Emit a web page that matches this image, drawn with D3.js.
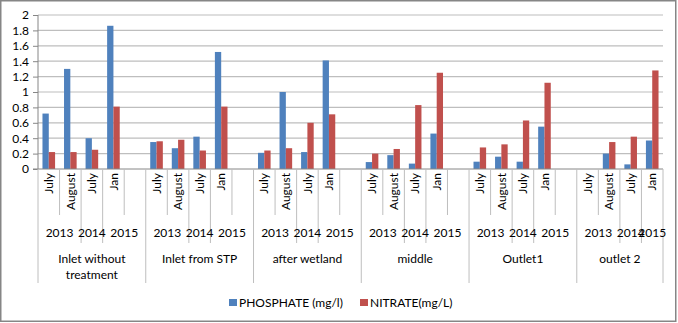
<!DOCTYPE html>
<html>
<head>
<meta charset="utf-8">
<script src="https://cdn.jsdelivr.net/npm/d3@7"></script>
<style>
  body { margin: 0; background: #fff; }
  svg { display: block; font-family: Lato, "Open Sans", sans-serif; }
</style>
</head>
<body>
<svg width="678" height="323"></svg>
<script>
let groups = ["Inlet without treatment", "Inlet from STP", "after wetland", "middle", "Outlet1", "outlet 2"];
let months = ["July", "August", "July", "Jan"];
let years = ["2013", "2014", "2015"];
let seriesNames = ["PHOSPHATE (mg/l)", "NITRATE(mg/L)"];

// one row per group, in month order
let phosphate = [
    [0.72, 1.30, 0.40, 1.86],
    [0.35, 0.27, 0.42, 1.52],
    [0.21, 1.00, 0.22, 1.41],
    [0.09, 0.18, 0.07, 0.46],
    [0.095, 0.16, 0.095, 0.55],
    [null, 0.20, 0.06, 0.37]
];
let nitrate = [
    [0.22, 0.22, 0.25, 0.81],
    [0.36, 0.38, 0.24, 0.81],
    [0.24, 0.27, 0.60, 0.71],
    [0.20, 0.26, 0.83, 1.25],
    [0.28, 0.32, 0.63, 1.12],
    [null, 0.35, 0.42, 1.28]
];
let yTicks = [0, 0.2, 0.4, 0.6, 0.8, 1, 1.2, 1.4, 1.6, 1.8, 2];

let colors = ["#4F81BD", "#C0504D"];

let svg = d3.select("svg"),
    plotLeft = 38, plotRight = 663, plotTop = 15, plotBottom = 169;

svg.append("rect")
    .attr("x", 0.75).attr("y", 0.75)
    .attr("width", 675).attr("height", 320.5)
    .attr("fill", "#fff")
    .attr("stroke", "#868686")
    .attr("stroke-width", 1.5);

// slots: 4 months + one empty slot per group, except after the last group
let slots = [];
groups.forEach(function(g, gi) {
    months.forEach(function(m, mi) {
        slots.push({key: gi + "-" + mi, gi: gi, mi: mi,
            values: [phosphate[gi][mi], nitrate[gi][mi]]});
    });
    if (gi < groups.length - 1) slots.push({key: gi + "-gap", gi: gi, mi: 4, values: []});
});

let x0 = d3.scaleBand().domain(slots.map(function(d) { return d.key; })).range([plotLeft, plotRight]);
let x1 = d3.scaleBand().domain([0, 1]).range([0, x0.bandwidth()]).paddingOuter(0.71);
let y = d3.scaleLinear().domain([0, 2]).range([plotBottom, plotTop]);

// gridlines
svg.append("g").selectAll("line")
    .data(yTicks.slice(1))
    .enter().append("line")
    .attr("x1", plotLeft).attr("x2", plotRight)
    .attr("y1", function(d) { return y(d); })
    .attr("y2", function(d) { return y(d); })
    .attr("stroke", "#BEBEBE")
    .attr("stroke-width", 1.2);

// y axis
let yAxis = svg.append("g")
    .attr("transform", "translate(" + plotLeft + ",0)")
    .call(d3.axisLeft(y).tickValues(yTicks).tickSize(5).tickPadding(4)
        .tickFormat(function(d) { return String(+d.toFixed(1)); }));
yAxis.select(".domain").attr("stroke", "#868686").attr("d", "M0," + plotTop + "V" + plotBottom);
yAxis.selectAll(".tick line").attr("stroke", "#868686");
yAxis.selectAll("text").attr("font-size", 12).attr("fill", "#000").attr("font-family", "Lato");

// bars
let slotG = svg.append("g").selectAll("g")
    .data(slots)
    .enter().append("g")
    .attr("transform", function(d) { return "translate(" + x0(d.key) + ",0)"; });

slotG.selectAll("rect")
    .data(function(d) { return d.values.map(function(v, i) { return {i: i, v: v}; }).filter(function(e) { return e.v != null; }); })
    .enter().append("rect")
    .attr("x", function(d) { return x1(d.i); })
    .attr("width", x1.bandwidth())
    .attr("y", function(d) { return y(d.v); })
    .attr("height", function(d) { return y(0) - y(d.v); })
    .attr("fill", function(d) { return colors[d.i]; });

// x axis line
svg.append("line")
    .attr("x1", plotLeft - 5).attr("x2", plotRight)
    .attr("y1", plotBottom).attr("y2", plotBottom)
    .attr("stroke", "#868686");

// category dividers: long at group edges, medium between years, short between months
let axisG = svg.append("g").attr("stroke", "#BEBEBE");
slots.forEach(function(s) {
    let xe = x0(s.key);
    let len = 215;
    if (s.mi === 0) len = 283;
    else if (s.mi === 2 || s.mi === 3) len = 243;
    axisG.append("line").attr("x1", xe).attr("x2", xe).attr("y1", plotBottom).attr("y2", len);
});
axisG.append("line").attr("x1", plotRight).attr("x2", plotRight).attr("y1", plotBottom).attr("y2", 283);

// month labels
svg.append("g").selectAll("text")
    .data(slots.filter(function(d) { return d.mi < 4; }))
    .enter().append("text")
    .attr("transform", function(d) {
        return "translate(" + (x0(d.key) + x0.bandwidth() / 2) + ",173) rotate(-90)";
    })
    .attr("dy", "0.35em")
    .attr("text-anchor", "end")
    .attr("font-size", 12)
    .text(function(d) { return months[d.mi]; });

// year and group labels
let bw = x0.bandwidth();
groups.forEach(function(g, gi) {
    let start = x0(gi + "-0");
    let last = gi === groups.length - 1;
    let spans = [[0, 2], [2, 3], [3, last ? 4 : 5]];
    years.forEach(function(yr, yi) {
        svg.append("text")
            .attr("x", start + (spans[yi][0] + spans[yi][1]) / 2 * bw)
            .attr("y", 237)
            .attr("text-anchor", "middle")
            .attr("font-size", 12)
            .text(yr);
    });
    let end = last ? plotRight : start + 5 * bw;
    let words = g === "Inlet without treatment" ? ["Inlet without", "treatment"] : [g];
    let t = svg.append("text")
        .attr("y", 263)
        .attr("text-anchor", "middle")
        .attr("font-size", 12);
    words.forEach(function(w, wi) {
        t.append("tspan").attr("x", (start + end) / 2).attr("dy", wi ? 16 : 0).text(w);
    });
});

// legend
let legendX = [229, 360];
let leg = svg.append("g").selectAll("g")
    .data(seriesNames)
    .enter().append("g")
    .attr("transform", function(d, i) { return "translate(" + legendX[i] + ",299)"; });
leg.append("rect").attr("width", 8).attr("height", 7)
    .attr("fill", function(d, i) { return colors[i]; });
leg.append("text").attr("x", 10).attr("y", 7.5).attr("font-size", 12)
    .text(function(d) { return d; });
</script>
</body>
</html>
